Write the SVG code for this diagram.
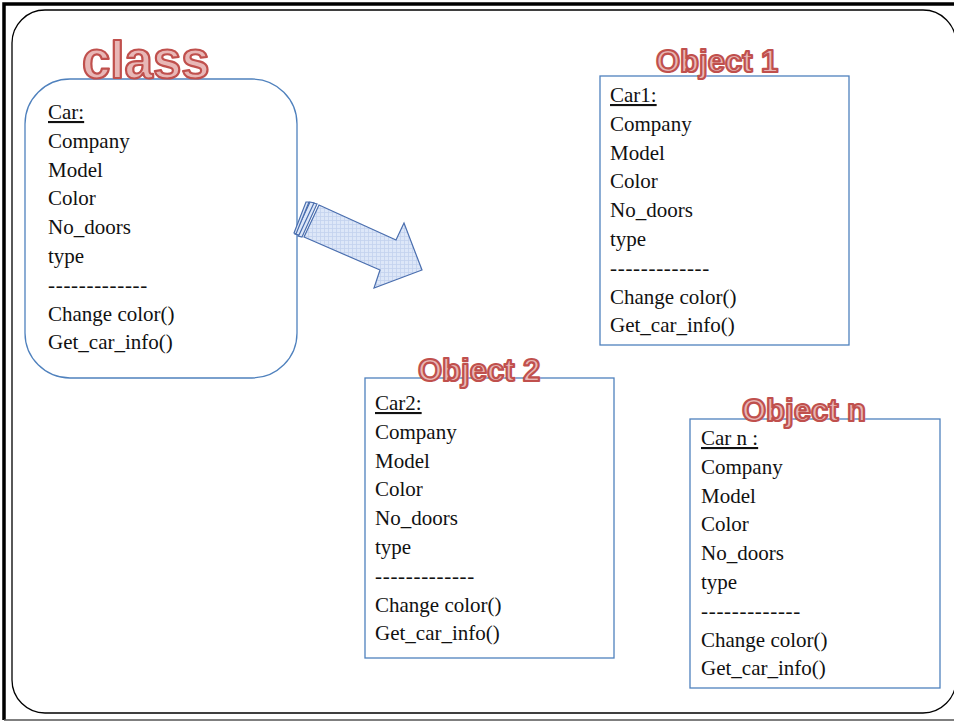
<svg xmlns="http://www.w3.org/2000/svg" width="954" height="722" viewBox="0 0 954 722">
  <style>
    .box { fill: #ffffff; stroke: #4f81bd; stroke-width: 1.3; }
    .txt { font-family: "Liberation Serif", "DejaVu Serif", serif; font-size: 21px; fill: #111111; }
    .u { text-decoration: underline; }
    .title { font-family: "Liberation Sans", Arial, sans-serif; font-weight: bold; fill: #e8b7b6; stroke: #c0504d; stroke-width: 2.2; stroke-linejoin: round; }
  </style>
  <defs>
    <pattern id="grid" width="4" height="4" patternUnits="userSpaceOnUse">
      <rect width="4" height="4" fill="#dde7f8"/>
      <path d="M0 0.5H4M0.5 0V4" stroke="#c3d2ee" stroke-width="0.8"/>
    </pattern>
  </defs>

  <g id="frame">
    <rect x="0" y="0" width="954" height="722" fill="#ffffff"/>
    <path d="M4 720V4H960" fill="none" stroke="#000000" stroke-width="3.5"/>
    <path d="M4 720H954" fill="none" stroke="#555555" stroke-width="1.5"/>
    <rect x="12" y="10" width="944" height="703" rx="33" ry="33" fill="none" stroke="#000000" stroke-width="1.3"/>
  </g>

  <g id="class-node">
    <rect class="box" x="25" y="79" width="272" height="299" rx="45" ry="45"/>
    <text class="txt" x="48">
      <tspan class="u" x="48" y="119">Car:</tspan>
      <tspan x="48" y="147.8">Company</tspan>
      <tspan x="48" y="176.6">Model</tspan>
      <tspan x="48" y="205.4">Color</tspan>
      <tspan x="48" y="234.2">No_doors</tspan>
      <tspan x="48" y="263">type</tspan>
      <tspan x="48" y="291.8" letter-spacing="0.7">-------------</tspan>
      <tspan x="48" y="320.6">Change color()</tspan>
      <tspan x="48" y="349.4">Get_car_info()</tspan>
    </text>
    <text class="title" x="82" y="78" font-size="51">class</text>
  </g>

  <g id="object1">
    <rect class="box" x="600" y="76" width="249" height="269"/>
    <text class="txt">
      <tspan class="u" x="610" y="102">Car1:</tspan>
      <tspan x="610" y="130.8">Company</tspan>
      <tspan x="610" y="159.6">Model</tspan>
      <tspan x="610" y="188.4">Color</tspan>
      <tspan x="610" y="217.2">No_doors</tspan>
      <tspan x="610" y="246">type</tspan>
      <tspan x="610" y="274.8" letter-spacing="0.7">-------------</tspan>
      <tspan x="610" y="303.6">Change color()</tspan>
      <tspan x="610" y="332.4">Get_car_info()</tspan>
    </text>
    <text class="title" x="656" y="72" font-size="31">Object 1</text>
  </g>

  <g id="object2">
    <rect class="box" x="365" y="378" width="249" height="280"/>
    <text class="txt">
      <tspan class="u" x="375" y="410">Car2:</tspan>
      <tspan x="375" y="438.8">Company</tspan>
      <tspan x="375" y="467.6">Model</tspan>
      <tspan x="375" y="496.4">Color</tspan>
      <tspan x="375" y="525.2">No_doors</tspan>
      <tspan x="375" y="554">type</tspan>
      <tspan x="375" y="582.8" letter-spacing="0.7">-------------</tspan>
      <tspan x="375" y="611.6">Change color()</tspan>
      <tspan x="375" y="640.4">Get_car_info()</tspan>
    </text>
    <text class="title" x="418" y="381" font-size="31">Object 2</text>
  </g>

  <g id="objectn">
    <rect class="box" x="690" y="419" width="250" height="269"/>
    <text class="txt">
      <tspan class="u" x="701" y="445">Car n :</tspan>
      <tspan x="701" y="473.8">Company</tspan>
      <tspan x="701" y="502.6">Model</tspan>
      <tspan x="701" y="531.4">Color</tspan>
      <tspan x="701" y="560.2">No_doors</tspan>
      <tspan x="701" y="589">type</tspan>
      <tspan x="701" y="617.8" letter-spacing="0.7">-------------</tspan>
      <tspan x="701" y="646.6">Change color()</tspan>
      <tspan x="701" y="675.4">Get_car_info()</tspan>
    </text>
    <text class="title" x="742" y="421" font-size="31">Object n</text>
  </g>

  <g id="connectors">
    <g stroke="#4a6eae" stroke-width="1.2" stroke-linejoin="miter">
      <polygon points="319,205 396,240 404,223 422,270 374,288 380,270 304,237" fill="url(#grid)"/>
      <polygon points="313,203 317,204 302,237 298,236" fill="#dde7f8"/>
      <polygon points="308,202 312,203 297,235 293,234" fill="#dde7f8" transform="translate(2,0)"/>
      <polygon points="306,202 309,202 296,234 294,233" fill="#dde7f8" transform="translate(0,0)"/>
    </g>
  </g>
</svg>
